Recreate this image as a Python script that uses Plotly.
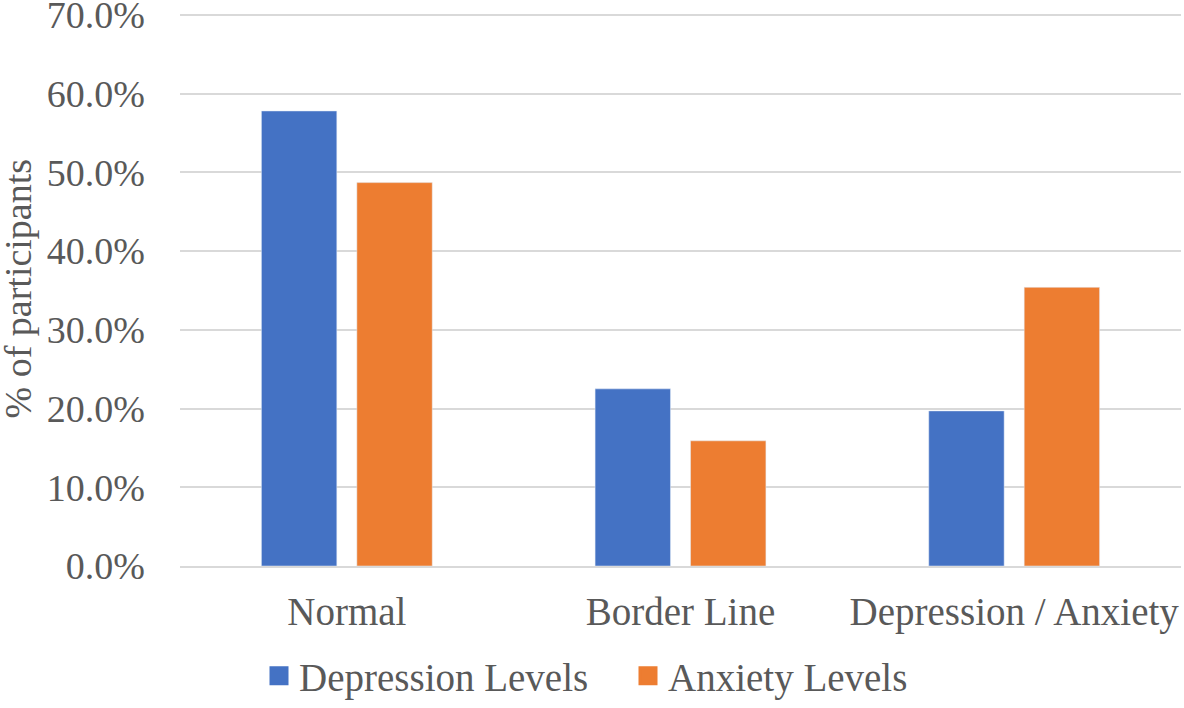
import plotly.graph_objects as go

categories = ["Normal", "Border Line", "Depression / Anxiety"]
depression_levels = [57.8, 22.5, 19.7]
anxiety_levels = [48.7, 15.9, 35.4]
series_names = ["Depression Levels", "Anxiety Levels"]
y_ticks = [0, 10, 20, 30, 40, 50, 60, 70]
y_tick_text = [f"{v:.1f}%" for v in y_ticks]
y_title = "% of participants"

BLUE = "#4472C4"
ORANGE = "#ED7D31"
TEXT = "#595959"
GRID = "#D9D9D9"
FONT = "Liberation Serif, Times New Roman, serif"

W, H = 1184, 708
ML, MR, MT, MB = 180, 3, 11, 142

fig = go.Figure()
fig.add_trace(go.Bar(x=categories, y=depression_levels, name=series_names[0],
                     marker=dict(color=BLUE), showlegend=False))
fig.add_trace(go.Bar(x=categories, y=anxiety_levels, name=series_names[1],
                     marker=dict(color=ORANGE), showlegend=False))
# legend entries with larger square swatches
for nm, col in zip(series_names, [BLUE, ORANGE]):
    fig.add_trace(go.Scatter(x=[None], y=[None], mode="markers", name=nm,
                             marker=dict(symbol="square", size=16, color=col,
                                         line=dict(color=col, width=3))))

plot_w = W - ML - MR
fig.add_annotation(text=y_title, textangle=-90, showarrow=False,
                   xref="paper", yref="paper", x=-(ML - 17) / plot_w, y=0.5,
                   xanchor="center", yanchor="middle",
                   font=dict(size=38, color=TEXT, family=FONT))

fig.update_layout(
    width=W, height=H,
    margin=dict(l=ML, r=MR, t=MT, b=MB, autoexpand=False),
    paper_bgcolor="white", plot_bgcolor="white",
    font=dict(family=FONT, size=39, color=TEXT),
    barmode="group", bargap=0.428, bargroupgap=0.21,
    legend=dict(orientation="h", xref="container", x=259 / W, xanchor="left",
                yref="container", y=0.0, yanchor="bottom",
                font=dict(size=39, color=TEXT), itemwidth=30,
                entrywidth=324, traceorder="normal"),
    xaxis=dict(showgrid=False, showline=True, linecolor=GRID, linewidth=2,
               ticks="", tickfont=dict(size=39, color=TEXT),
               ticklabelstandoff=10, automargin=False),
    yaxis=dict(range=[0, 70.5], tickvals=y_ticks, ticktext=y_tick_text,
               showgrid=True, gridcolor=GRID, gridwidth=2, zeroline=False,
               showline=False, ticks="", ticklabelstandoff=34, automargin=False,
               ticklabeloverflow="allow",
               tickfont=dict(size=38, color=TEXT)),
)

# remove the browser's default 8px body margin so the figure fills the window
fig.write_html("out.html",
               config={"displayModeBar": False},
               post_script="document.body.style.margin='0';document.body.style.overflow='hidden';")
